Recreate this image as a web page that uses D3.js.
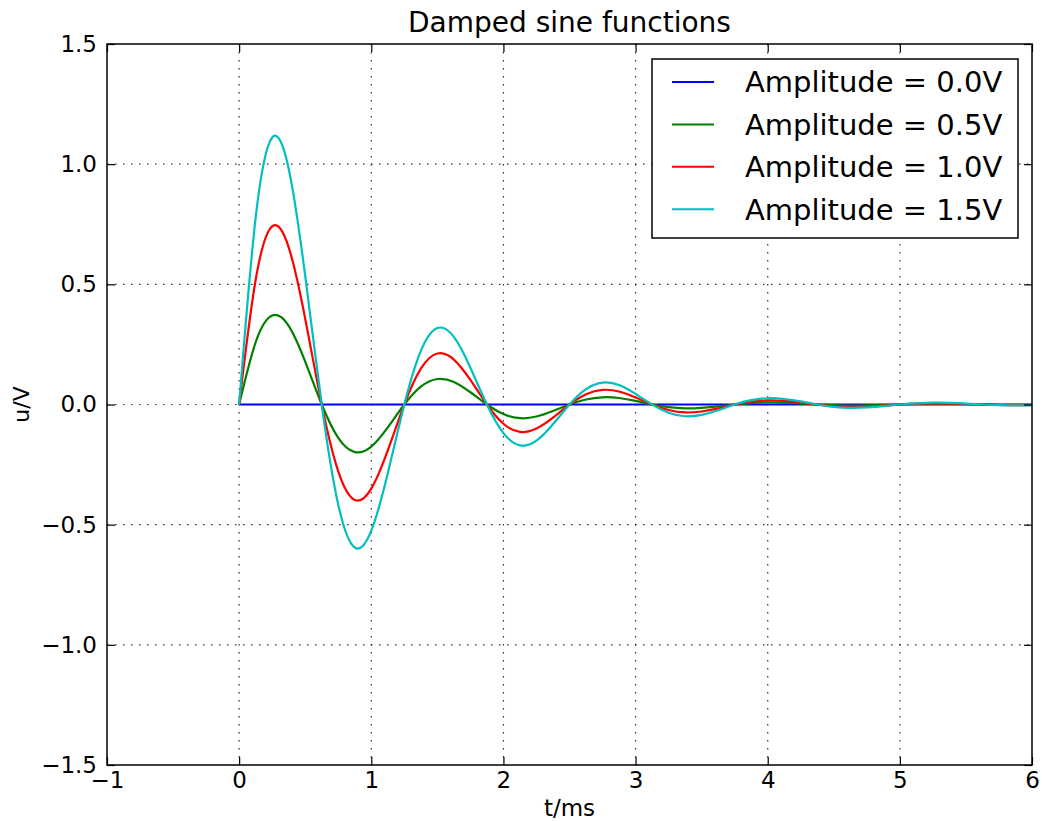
<!DOCTYPE html>
<html>
<head>
<meta charset="utf-8">
<script src="https://cdn.jsdelivr.net/npm/d3@7"></script>
<style>
  body { margin: 0; background: #fff; }
  svg text { font-family: "DejaVu Sans", sans-serif; fill: #000; }
</style>
</head>
<body>
<div id="chartArea"></div>
<script>
// data (t in ms, u in V)
const tValues = [0, 0.125, 0.25, 0.375, 0.5, 0.625, 0.75, 0.875, 1, 1.125,
    1.25, 1.375, 1.5, 1.625, 1.75, 1.875, 2, 2.125, 2.25, 2.375,
    2.5, 2.625, 2.75, 2.875, 3, 3.125, 3.25, 3.375, 3.5, 3.625,
    3.75, 3.875, 4, 4.125, 4.25, 4.375, 4.5, 4.625, 4.75, 4.875,
    5, 5.125, 5.25, 5.375, 5.5, 5.625, 5.75, 5.875, 6];

const amp00 = [0, 0, 0, 0, 0, 0, 0, 0, 0, 0,
    0, 0, 0, 0, 0, 0, 0, 0, 0, 0,
    0, 0, 0, 0, 0, 0, 0, 0, 0, 0,
    0, 0, 0, 0, 0, 0, 0, 0, 0, 0,
    0, 0, 0, 0, 0, 0, 0, 0, 0];

const amp05 = [0, 0.259, 0.370, 0.327, 0.178, 0, -0.139, -0.198, -0.175, -0.095,
    0, 0.074, 0.106, 0.094, 0.051, 0, -0.040, -0.057, -0.050, -0.027,
    0, 0.021, 0.030, 0.027, 0.015, 0, -0.011, -0.016, -0.014, -0.008,
    0, 0.006, 0.009, 0.008, 0.004, 0, -0.003, -0.005, -0.004, -0.002,
    0, 0.002, 0.003, 0.002, 0.001, 0, -0.001, -0.001, -0.001];

const amp10 = [0, 0.519, 0.741, 0.654, 0.357, 0, -0.278, -0.397, -0.350, -0.191,
    0, 0.149, 0.212, 0.187, 0.102, 0, -0.080, -0.114, -0.100, -0.055,
    0, 0.043, 0.061, 0.054, 0.029, 0, -0.023, -0.033, -0.029, -0.016,
    0, 0.012, 0.017, 0.015, 0.008, 0, -0.007, -0.009, -0.008, -0.005,
    0, 0.004, 0.005, 0.004, 0.002, 0, -0.002, -0.003, -0.002];

const amp15 = [0, 0.778, 1.111, 0.981, 0.535, 0, -0.417, -0.595, -0.525, -0.286,
    0, 0.223, 0.318, 0.281, 0.153, 0, -0.119, -0.170, -0.150, -0.082,
    0, 0.064, 0.091, 0.081, 0.044, 0, -0.034, -0.049, -0.043, -0.024,
    0, 0.018, 0.026, 0.023, 0.013, 0, -0.010, -0.014, -0.012, -0.007,
    0, 0.005, 0.008, 0.007, 0.004, 0, -0.003, -0.004, -0.004];

const seriesLabels = ["Amplitude = 0.0V", "Amplitude = 0.5V", "Amplitude = 1.0V", "Amplitude = 1.5V"];
const seriesValues = [amp00, amp05, amp10, amp15];
const seriesColors = ["#0000ff", "#008000", "#ff0000", "#00bfbf"];

const xTicks = [-1, 0, 1, 2, 3, 4, 5, 6];
const yTicks = [-1.5, -1.0, -0.5, 0.0, 0.5, 1.0, 1.5];

// layout
const width = 1042, height = 821;
const margin = { top: 44, right: 10, bottom: 56, left: 107 };
const plotW = width - margin.left - margin.right;   // 925
const plotH = height - margin.top - margin.bottom;  // 721

var xScale = d3.scaleLinear().domain([-1, 6]).range([0, plotW]);
var yScale = d3.scaleLinear().domain([-1.5, 1.5]).range([plotH, 0]);

var svg = d3.select("#chartArea").append("svg")
    .attr("width", width)
    .attr("height", height);

var g = svg.append("g")
    .attr("transform", "translate(" + margin.left + "," + margin.top + ")");

// grid (dotted)
g.append("g").selectAll("line").data(xTicks.slice(1, -1)).enter().append("line")
    .attr("x1", d => xScale(d)).attr("x2", d => xScale(d))
    .attr("y1", 0).attr("y2", plotH)
    .attr("stroke", "#000").attr("stroke-width", 1.2)
    .attr("stroke-dasharray", "1.5,6.5").attr("opacity", 0.8);

g.append("g").selectAll("line").data(yTicks.slice(1, -1)).enter().append("line")
    .attr("y1", d => yScale(d)).attr("y2", d => yScale(d))
    .attr("x1", 0).attr("x2", plotW)
    .attr("stroke", "#000").attr("stroke-width", 1.2)
    .attr("stroke-dasharray", "1.5,6.5").attr("opacity", 0.8);

// curves
var line = d3.line()
    .x((d, i) => xScale(tValues[i]))
    .y(d => yScale(d))
    .curve(d3.curveNatural);

g.append("g").selectAll("path").data(seriesValues).enter().append("path")
    .attr("d", d => line(d))
    .attr("fill", "none")
    .attr("stroke", (d, i) => seriesColors[i])
    .attr("stroke-width", 2.2);

// axes: ticks inward on all four sides
const tickLen = 8;
var fmtY = d => d3.format(".1f")(d).replace("-", "\u2212");
var fmtX = d => d3.format("d")(d).replace("-", "\u2212");

var xAxis = d3.axisBottom(xScale).tickValues(xTicks).tickSizeInner(-tickLen).tickSizeOuter(0).tickPadding(7).tickFormat(fmtX);
var yAxis = d3.axisLeft(yScale).tickValues(yTicks).tickSizeInner(-tickLen).tickSizeOuter(0).tickPadding(10).tickFormat(fmtY);

g.append("g").attr("class", "x axis")
    .attr("transform", "translate(0," + plotH + ")")
    .call(xAxis);
g.append("g").attr("class", "y axis")
    .call(yAxis);
g.append("g").attr("class", "x2 axis")
    .call(d3.axisTop(xScale).tickValues(xTicks).tickSizeInner(-tickLen).tickSizeOuter(0).tickFormat(""));
g.append("g").attr("class", "y2 axis")
    .attr("transform", "translate(" + plotW + ",0)")
    .call(d3.axisRight(yScale).tickValues(yTicks).tickSizeInner(-tickLen).tickSizeOuter(0).tickFormat(""));

g.selectAll(".axis path.domain").remove();
g.selectAll(".axis line").attr("stroke", "#000").attr("stroke-width", 1.2);
g.selectAll(".axis text").style("font-size", "23px").attr("fill", "#000");

// frame
g.append("rect")
    .attr("width", plotW).attr("height", plotH)
    .attr("fill", "none").attr("stroke", "#000").attr("stroke-width", 1.5);

// title and labels
svg.append("text")
    .attr("x", margin.left + plotW / 2).attr("y", 32)
    .attr("text-anchor", "middle")
    .style("font-size", "28px")
    .text("Damped sine functions");

svg.append("text")
    .attr("x", margin.left + plotW / 2).attr("y", 816)
    .attr("text-anchor", "middle")
    .style("font-size", "23px")
    .text("t/ms");

svg.append("text")
    .attr("transform", "translate(29," + (margin.top + plotH / 2) + ") rotate(-90)")
    .attr("text-anchor", "middle")
    .style("font-size", "22px")
    .text("u/V");

// legend
var legend = svg.append("g").attr("transform", "translate(652,59)");
legend.append("rect")
    .attr("width", 366).attr("height", 179)
    .attr("fill", "#fff").attr("stroke", "#000").attr("stroke-width", 1.5);

var rows = legend.selectAll(".row").data(seriesLabels).enter().append("g")
    .attr("class", "row")
    .attr("transform", (d, i) => "translate(0," + (23 + i * 42.4) + ")");
rows.append("line")
    .attr("x1", 20).attr("x2", 62)
    .attr("stroke", (d, i) => seriesColors[i]).attr("stroke-width", 2);
rows.append("text")
    .attr("x", 93).attr("dy", "0.36em")
    .style("font-size", "29px")
    .text(d => d);
</script>
</body>
</html>
